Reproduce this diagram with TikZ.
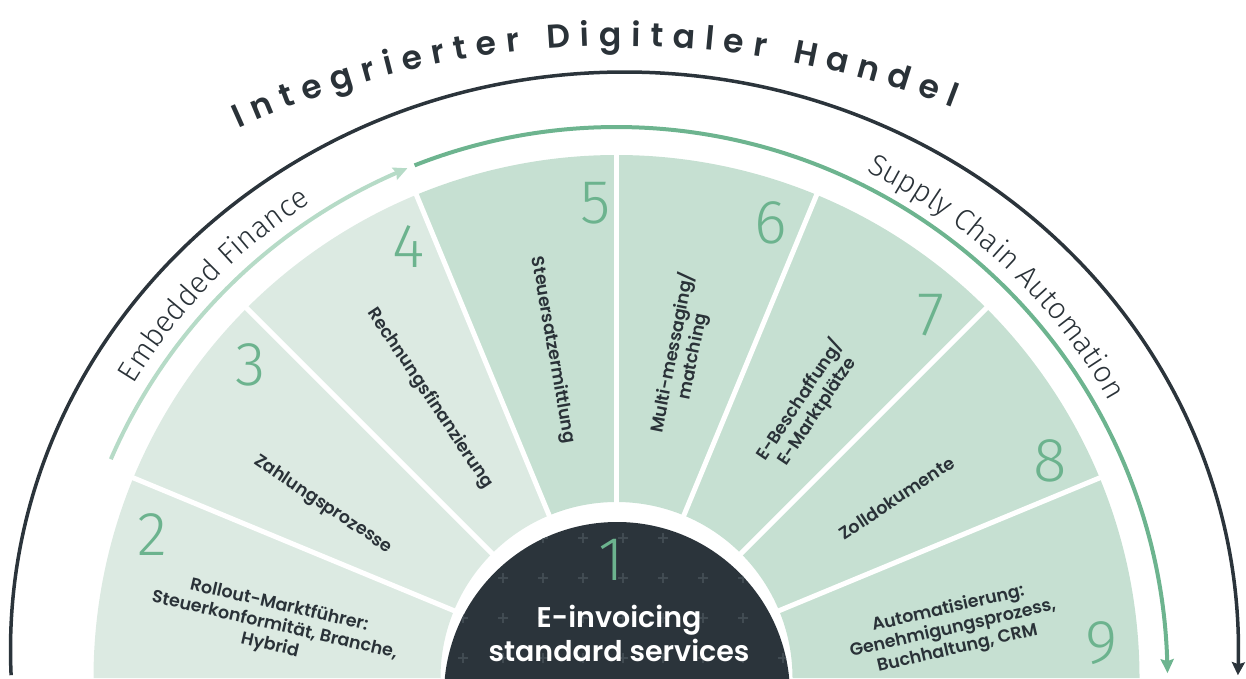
\documentclass[tikz,border=0pt]{standalone}
\usepackage{fontspec}
\setmainfont{Fira Sans}
\newfontfamily\labfont{Poppins SemiBold}
\newfontfamily\numfont{Fira Sans Light}
\newfontfamily\arcfont{Fira Sans Light}
\newfontfamily\titfont{Poppins SemiBold}
\usetikzlibrary{decorations.text,arrows.meta,bending,calc}
\definecolor{darkslate}{HTML}{2B343B}
\definecolor{segA}{HTML}{DCEAE2}
\definecolor{segB}{HTML}{C6E0D2}
\definecolor{numgreen}{HTML}{6CB38E}
\definecolor{arcgreen}{HTML}{6DB48F}
\definecolor{lightarc}{HTML}{B6DBC7}
\definecolor{txt}{HTML}{2A3238}
\definecolor{plusc}{HTML}{414B52}
\tikzset{
  num/.style={font=\numfont\fontsize{62}{62}\selectfont, text=numgreen, inner sep=0pt},
  lab/.style={font=\labfont\fontsize{17.5}{20.5}\selectfont, text=txt, align=center, inner sep=0pt},
  divider/.style={white, line width=5pt},
  plusmark/.style={plusc, line width=1.3pt},
}
\begin{document}
\begin{tikzpicture}[x=1pt,y=1pt]
\useasboundingbox (0,0) rectangle (1246,678);
\clip (0,0) rectangle (1246,678);
\coordinate (C) at (616.5,0);
\coordinate (D) at (617,-17);
\coordinate (E) at (624.5,28);
\coordinate (T) at (620,-296);

% segments
\foreach \k/\c in {0/segA,1/segA,2/segA,3/segB,4/segB,5/segB,6/segB,7/segB} {
  \pgfmathsetmacro\as{180-22.5*\k}
  \pgfmathsetmacro\ae{\as-22.5}
  \fill[\c] ([shift={(\as:176)}]C) arc[start angle=\as,end angle=\ae,radius=176]
     -- ([shift={(\ae:523)}]C) arc[start angle=\ae,end angle=\as,radius=523] -- cycle;
}
\foreach \a in {22.5,45,67.5,90,112.5,135,157.5}
  \draw[divider] ([shift={(\a:150)}]C) -- ([shift={(\a:540)}]C);

% centre disc
\fill[darkslate] (D) circle (173);
\begin{scope}
  \clip (D) circle (173);
  \foreach \i in {-4,...,4}
    \foreach \j in {0,...,4} {
      \draw[plusmark] (623+40*\i-5,140-40*\j) -- ++(10,0);
      \draw[plusmark] (623+40*\i,140-40*\j-5) -- ++(0,10);
    }
\end{scope}
\node[num] (n1) at (611,118) {1};
\node[font=\labfont\fontsize{28.5}{34}\selectfont, text=white, align=center, inner sep=0pt] (core) at (619,45) {E-invoicing\\standard services};

% numbers
\node[num] (n2) at (152,143) {2};
\node[num] (n3) at (251,313) {3};
\node[num] (n4) at (409,431) {4};
\node[num] (n5) at (596,475) {5};
\node[num] (n6) at (771,455) {6};
\node[num] (n7) at (931,363) {7};
\node[num] (n8) at (1050,217) {8};
\node[num] (n9) at (1102,35) {9};

% labels
\node[lab, rotate=-13] (l2) at ([shift={(171.3:346)}]C) {Rollout-Marktführer:\\Steuerkonformität, Branche,\\Hybrid};
\node[lab, rotate=-33.75] (l3) at ([shift={(149.5:341)}]C) {Zahlungsprozesse};
\node[lab, rotate=-56.25] (l4) at ([shift={(123.7:336)}]C) {Rechnungsfinanzierung};
\node[lab, rotate=-80] (l5) at ([shift={(101:334)}]C) {Steuersatzermittlung};
\node[lab, rotate=78.75] (l6) at ([shift={(78.5:330)}]C) {Multi-messaging/\\matching};
\node[lab, rotate=56.25] (l7) at ([shift={(54.9:333)}]C) {E-Beschaffung/\\E-Marktplätze};
\node[lab, rotate=33.75] (l8) at ([shift={(32.7:333)}]C) {Zolldokumente};
\node[lab, rotate=13] (l9) at ([shift={(8.3:340)}]C) {Automatisierung:\\Genehmigungsprozess,\\Buchhaltung, CRM};

% outer black arc
\draw[darkslate, line width=3.5pt, -{Stealth[length=13pt,width=13pt,inset=2pt]}]
  ([shift={(182.5:614 and 578)}]E) arc[start angle=182.5,end angle=-2.5,x radius=614,y radius=578];

% green arcs
\draw[lightarc, line width=4pt, -{Stealth[length=14pt,width=13pt,inset=2pt]}]
  ([shift={(156.6:551)}]C) arc[start angle=156.6,end angle=112.3,radius=551];
\draw[arcgreen, line width=4pt, -{Stealth[length=14pt,width=13pt,inset=2pt]}]
  ([shift={(111.5:551)}]C) arc[start angle=111.5,end angle=0.5,radius=551];

% arc texts
\path[decorate, decoration={text along path, text align=center, text color=txt,
   text={|\arcfont\fontsize{30}{30}\selectfont|Embedded Finance}}]
  ([shift={(165.7:565)}]C) arc[start angle=165.7,end angle=105.7,radius=565];
\path[decorate, decoration={text along path, text align=center, text color=txt,
   text={|\arcfont\fontsize{30}{30}\selectfont|Supply Chain Automation}}]
  ([shift={(76.55:565)}]C) arc[start angle=76.55,end angle=16.55,radius=565];
\path[decorate, decoration={text along path, text align=fit to path, text color=txt,
   text={|\titfont\fontsize{33}{33}\selectfont|Integrierter Digitaler Handel}}]
  ([shift={(114.3:928)}]T) arc[start angle=114.3,end angle=69.0,radius=928];
\end{tikzpicture}
\end{document}
